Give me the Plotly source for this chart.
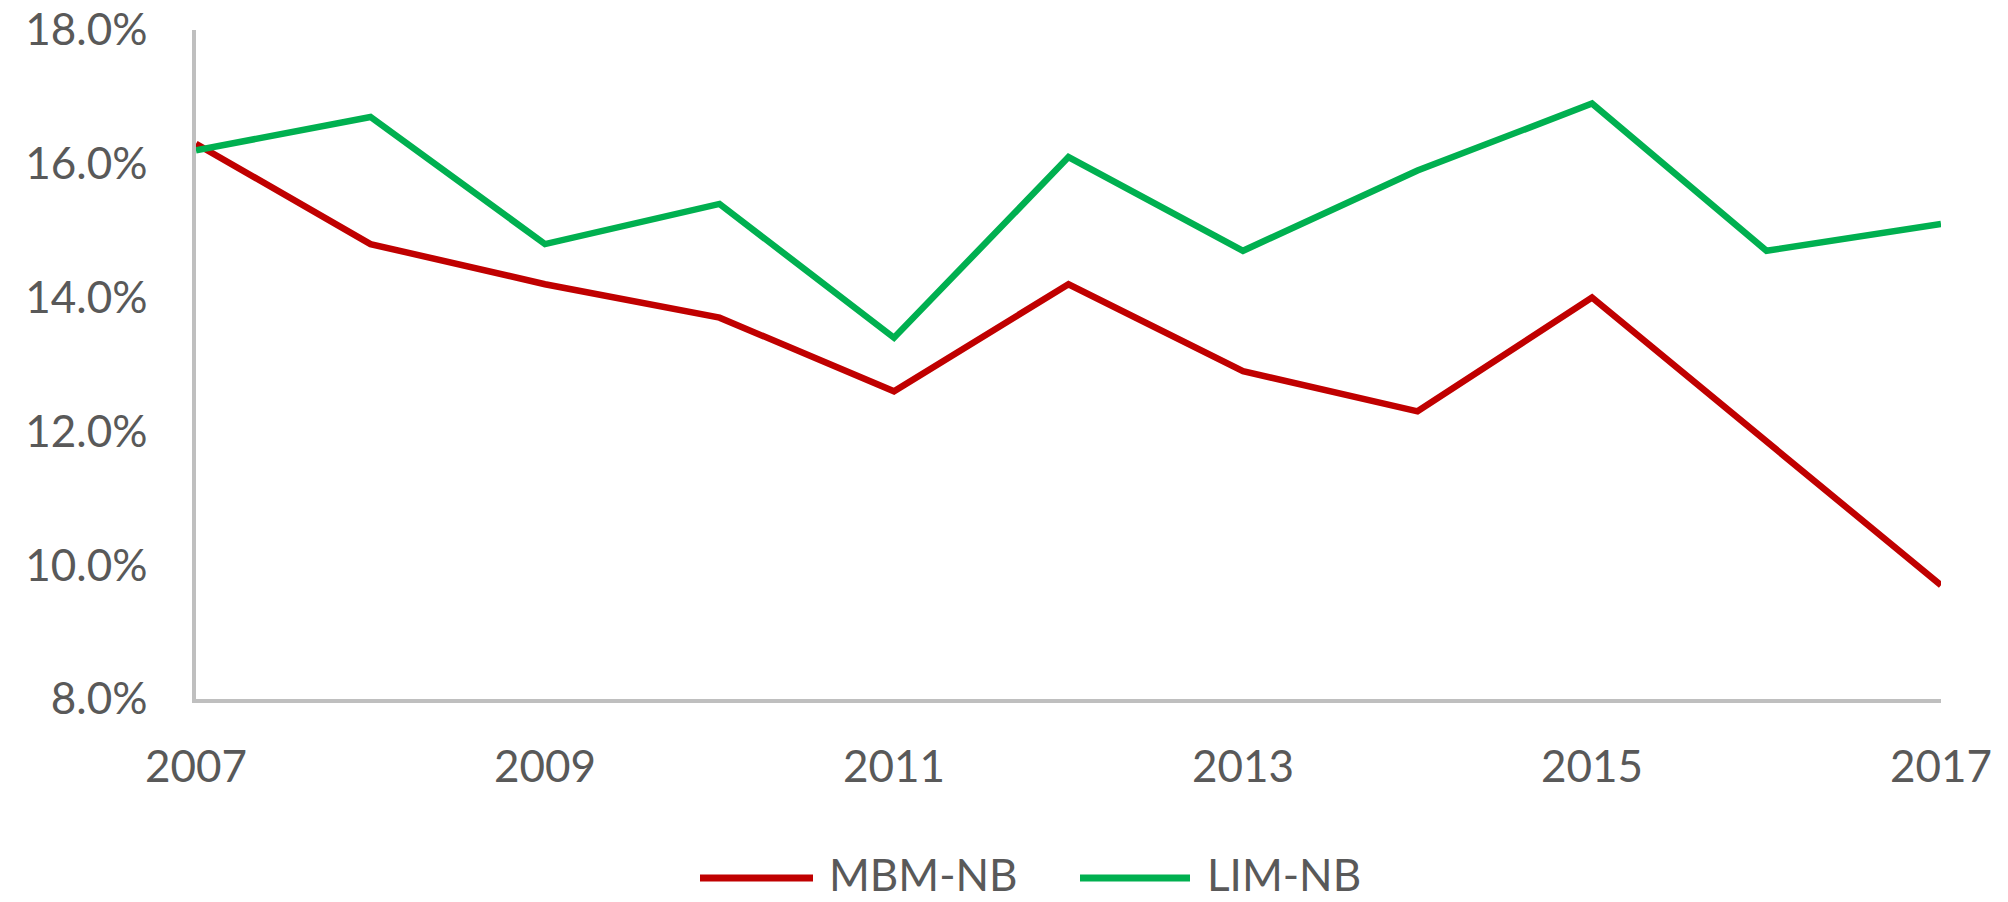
import plotly.graph_objects as go

years = [2007, 2008, 2009, 2010, 2011, 2012, 2013, 2014, 2015, 2016, 2017]
mbm_nb = [16.3, 14.8, 14.2, 13.7, 12.6, 14.2, 12.9, 12.3, 14.0, 11.85, 9.7]
lim_nb = [16.2, 16.7, 14.8, 15.4, 13.4, 16.1, 14.7, 15.9, 16.9, 14.7, 15.1]
series_names = ["MBM-NB", "LIM-NB"]
series_colors = ["#C00000", "#00B050"]
x_ticks = [2007, 2009, 2011, 2013, 2015, 2017]
y_ticks = [0.08, 0.10, 0.12, 0.14, 0.16, 0.18]

W, H = 2008, 902
L, R, T, B = 196, 67, 30, 203
FONT = "Lato"
TXT = "#595959"

fig = go.Figure()
for name, vals, col in zip(series_names, [mbm_nb, lim_nb], series_colors):
    fig.add_trace(go.Scatter(
        x=years, y=[v / 100 for v in vals], mode="lines", name=name,
        line=dict(color=col, width=6.5), showlegend=False, hoverinfo="skip",
    ))

fig.update_layout(
    width=W, height=H,
    margin=dict(l=L, r=R, t=T, b=B, autoexpand=False),
    paper_bgcolor="white", plot_bgcolor="white",
    font=dict(family=FONT, size=44, color=TXT),
    xaxis=dict(range=[2007, 2017], tickvals=x_ticks, ticktext=[str(v) for v in x_ticks],
               showgrid=False, zeroline=False, showline=True, linecolor="#BFBFBF",
               linewidth=3.5, ticks="", ticklabelstandoff=26, automargin=False),
    yaxis=dict(range=[0.08, 0.18], tickvals=y_ticks, tickformat=".1%",
               showgrid=False, zeroline=False, showline=True, linecolor="#BFBFBF",
               linewidth=3.5, ticks="", ticklabelstandoff=36, automargin=False),
)

pw, ph = W - L - R, H - T - B
def px(x):
    return (x - L) / pw
def py(y):
    return (H - B - y) / ph

legend_line_y = 878
legend_text_y = 874
legend_items = [(700, 813, 828), (1080, 1190, 1206)]
for (x0, x1, tx), name, col in zip(legend_items, series_names, series_colors):
    fig.add_shape(type="line", xref="paper", yref="paper",
                  x0=px(x0), x1=px(x1), y0=py(legend_line_y), y1=py(legend_line_y),
                  line=dict(color=col, width=7))
    fig.add_annotation(xref="paper", yref="paper", x=px(tx), y=py(legend_text_y),
                       text=name, showarrow=False, xanchor="left", yanchor="middle",
                       borderpad=0, font=dict(family=FONT, size=44, color=TXT))

fig.write_html("out.html", config={"displayModeBar": False},
               post_script="document.body.style.margin='0';document.body.style.overflow='hidden';")
